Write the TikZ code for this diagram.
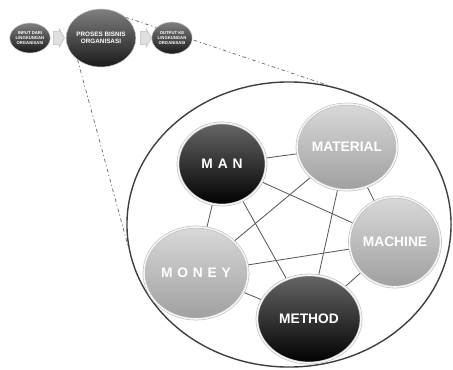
\documentclass[tikz,border=0pt]{standalone}
\usepackage{fontspec}
\setmainfont{Liberation Sans}
\newfontfamily\spaced[LetterSpace=35]{Liberation Sans}
\usetikzlibrary{shapes.geometric,shapes.arrows,backgrounds}

\tikzset{
	ball/.style={ellipse, draw=gray!55, line width=0.4pt, double=gray!8, double distance=1.1pt, text=white, font=\bfseries\fontsize{9.8}{11}\selectfont, inner sep=0pt},
	darkball/.style={ball, top color=black!60, bottom color=black},
	grayball/.style={ball, top color=gray!30, bottom color=gray!75},
	tinyball/.style={ellipse, draw=gray!40, top color=black!50, bottom color=black!90, text=white, align=center, font=\bfseries\fontsize{3}{3.4}\selectfont, inner sep=0pt},
	link/.style={draw=black!65, line width=0.6pt},
	zoomline/.style={draw=black!60, line width=0.5pt, dash pattern=on 2.5pt off 2pt on 0.8pt off 2pt},
	pointer/.style={single arrow, draw=gray!50, fill=gray!25, minimum height=8pt, inner xsep=0pt, inner ysep=4.5pt, single arrow head extend=2pt, single arrow tip angle=120}
}

\begin{document}
\begin{tikzpicture}[x=0.025cm, y=-0.025cm]
		%%%%% START %%%%%
		\useasboundingbox (0,0) rectangle (453,369);
		
		% top row: input -> proses -> output
		\node[tinyball, minimum width=0.9cm, minimum height=0.75cm] (input) at (30,38) {INPUT DARI\\LINGKUNGAN\\ORGANISASI};
		\node[pointer] (arrowA) at (57,38) {};
		\node[tinyball, minimum width=1.7cm, minimum height=1.45cm, font=\bfseries\fontsize{4.5}{5.2}\selectfont] (proses) at (101,38) {PROSES BISNIS\\ORGANISASI};
		\node[pointer] (arrowB) at (144,38) {};
		
		% the big cycle
		\node[ellipse, draw=black!75, line width=1pt, minimum width=8.1cm, minimum height=7.125cm] (cycle) at (289,224.5) {};
		
		\begin{scope}[on background layer]
			\draw[zoomline] (proses.40) -- (cycle.74);
			\draw[zoomline] (proses.223) -- (cycle.188);
		\end{scope}
		
		\node[tinyball, minimum width=0.95cm, minimum height=0.8cm] (output) at (172,38) {OUTPUT KE\\LINGKUNGAN\\ORGANISASI};
		
		% the five M
		\node[darkball, minimum width=2.2cm, minimum height=2.05cm, font=\bfseries\spaced\fontsize{9.8}{11}\selectfont] (man) at (222,164) {MAN};
		\node[grayball, minimum width=2.5cm, minimum height=2.15cm] (material) at (347,147) {MATERIAL};
		\node[grayball, minimum width=2.25cm, minimum height=2.25cm] (machine) at (395,242) {MACHINE};
		\node[grayball, minimum width=2.6cm, minimum height=2.3cm, font=\bfseries\spaced\fontsize{9.8}{11}\selectfont] (money) at (196,273) {MONEY};
		\node[darkball, minimum width=2.6cm, minimum height=2.2cm] (method) at (309,319) {METHOD};
		
		\begin{scope}[on background layer]
			\draw[link] (man) -- (material) -- (machine) -- (method) -- (money) -- (man);
			\draw[link] (man) -- (machine);
			\draw[link] (man) -- (method);
			\draw[link] (material) -- (money);
			\draw[link] (material) -- (method);
			\draw[link] (money) -- (machine);
		\end{scope}
		
		%%%%% END %%%%%
\end{tikzpicture}
\end{document}
